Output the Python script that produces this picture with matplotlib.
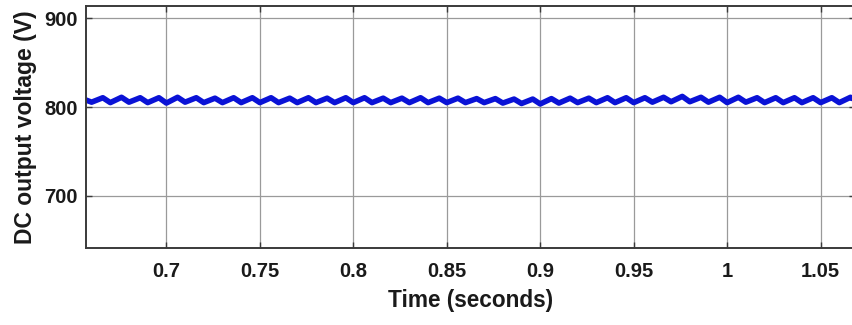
import matplotlib
matplotlib.use("Agg")
import matplotlib.pyplot as plt

# Ripple vertices (alternating trough / peak)
time_s = [0.655, 0.660, 0.666, 0.670, 0.676, 0.680, 0.686, 0.690, 0.696, 0.700,
          0.706, 0.710, 0.716, 0.720, 0.726, 0.730, 0.736, 0.740, 0.746, 0.750,
          0.756, 0.760, 0.766, 0.770, 0.776, 0.780, 0.786, 0.790, 0.796, 0.800,
          0.806, 0.810, 0.816, 0.820, 0.826, 0.830, 0.836, 0.840, 0.846, 0.850,
          0.856, 0.860, 0.866, 0.870, 0.876, 0.880, 0.886, 0.890, 0.896, 0.900,
          0.906, 0.910, 0.916, 0.920, 0.926, 0.930, 0.936, 0.940, 0.946, 0.950,
          0.956, 0.960, 0.966, 0.970, 0.976, 0.980, 0.986, 0.990, 0.996, 1.000,
          1.006, 1.010, 1.016, 1.020, 1.026, 1.030, 1.036, 1.040, 1.046, 1.050,
          1.056, 1.060, 1.066, 1.070]
voltage_v = [809.5, 805.5, 810.5, 805.0, 811.0, 805.5, 810.5, 805.0, 810.5, 804.5,
             811.0, 805.5, 810.5, 805.0, 810.0, 805.0, 810.5, 805.0, 810.5, 805.0,
             810.5, 805.0, 810.0, 805.0, 810.5, 805.0, 810.0, 805.0, 810.5, 805.0,
             810.5, 805.0, 810.0, 805.0, 810.0, 805.0, 810.5, 805.0, 810.0, 805.0,
             810.0, 805.0, 809.5, 805.0, 809.5, 804.5, 809.0, 804.0, 809.0, 803.5,
             809.5, 804.5, 810.0, 805.0, 810.0, 805.0, 810.5, 805.0, 810.5, 805.0,
             810.5, 805.5, 811.0, 806.0, 812.0, 806.0, 811.0, 805.5, 811.0, 805.0,
             811.0, 805.5, 810.5, 805.0, 810.5, 805.0, 810.5, 805.0, 810.5, 805.0,
             810.5, 805.0, 811.0, 806.0]

x_ticks = [0.7, 0.75, 0.8, 0.85, 0.9, 0.95, 1.0, 1.05]
x_tick_labels = ["0.7", "0.75", "0.8", "0.85", "0.9", "0.95", "1", "1.05"]
y_ticks = [700, 800, 900]
y_tick_labels = ["700", "800", "900"]

plt.rcParams['font.family'] = ['Liberation Sans', 'DejaVu Sans']

fig = plt.figure(figsize=(8.52, 3.25), dpi=100)
ax = fig.add_axes([86/852, 1-248/325, (855-86)/852, (248-5.7)/325])

ax.plot(time_s, voltage_v, color='#0a12d6', linewidth=4.0, solid_joinstyle='round',
        solid_capstyle='round')

ax.set_xlim(0.657, 1.0684)
ax.set_ylim(641.5, 914)
ax.set_xticks(x_ticks)
ax.set_xticklabels(x_tick_labels)
ax.set_yticks(y_ticks)
ax.set_yticklabels(y_tick_labels)

ax.grid(True, color='#9a9a9a', linewidth=0.9, linestyle='-')
ax.set_axisbelow(True)

for s in ax.spines.values():
    s.set_color('#3a3a3a')
    s.set_linewidth(1.4)

ax.tick_params(axis='both', direction='in', length=4, width=1, color='#3a3a3a',
               top=True, right=True, labelsize=14.5, labelcolor='#1a1a1a')
ax.tick_params(axis='x', pad=10)
ax.tick_params(axis='y', pad=6)
for lab in ax.get_xticklabels() + ax.get_yticklabels():
    lab.set_fontweight('bold')

ax.set_xlabel('Time (seconds)', fontsize=16.3, fontweight='bold', color='#1a1a1a', labelpad=6)
ax.set_ylabel('DC output voltage (V)', fontsize=16.5, fontweight='bold', color='#1a1a1a', labelpad=5)

fig.savefig('out.png', dpi=100)
